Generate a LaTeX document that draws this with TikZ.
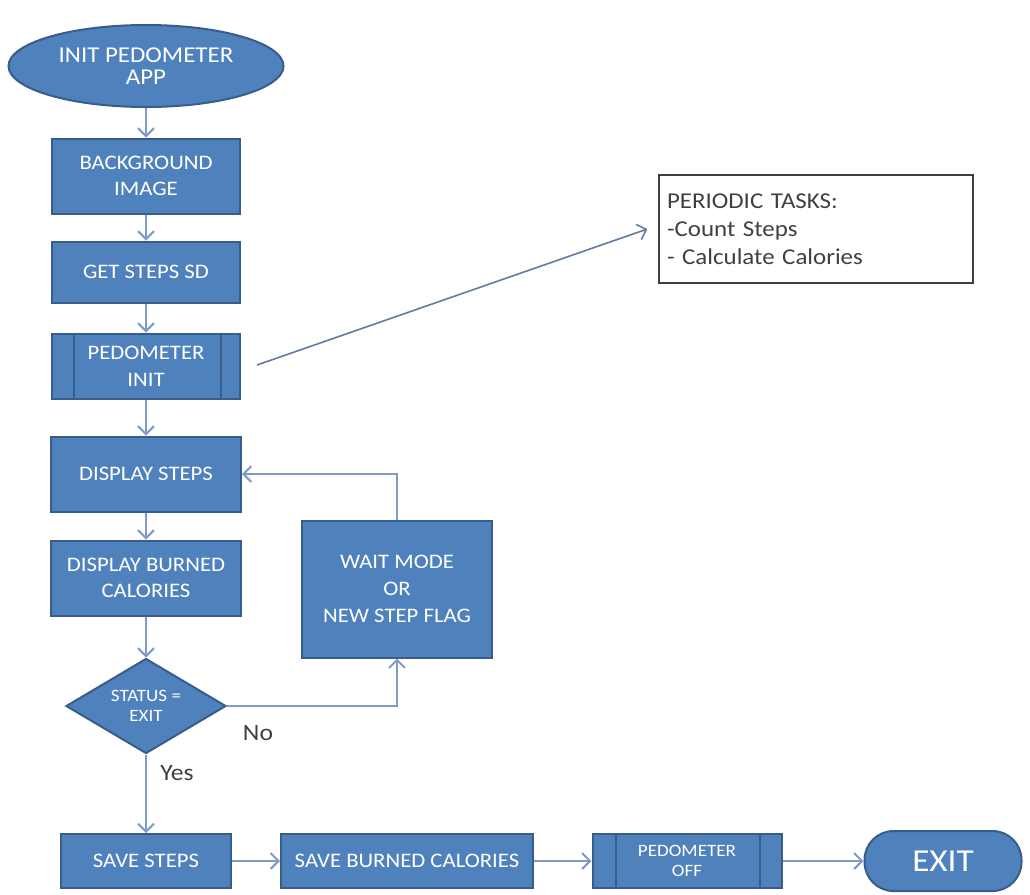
\documentclass[tikz,border=0pt]{standalone}
\usepackage{fontspec}
\setmainfont[FakeStretch=1.1]{Carlito}
\usetikzlibrary{shapes.geometric,arrows.meta}

\newdimen\pxu \pxu=0.75pt
\definecolor{boxblue}{RGB}{79,129,189}
\definecolor{boxedge}{RGB}{56,93,138}
\definecolor{arrowblue}{RGB}{128,155,198}
\definecolor{notegray}{RGB}{64,64,64}

\tikzstyle{flowbox}=[rectangle, draw=boxedge, fill=boxblue, line width=1.5pt, text=white, align=center, inner sep=0pt, font=\fontsize{15.5}{20}\selectfont]
\tikzstyle{termnode}=[flowbox, ellipse, font=\fontsize{17}{17}\selectfont]
\tikzstyle{decision}=[flowbox, diamond, aspect=1.7, font=\fontsize{13}{15}\selectfont]
\tikzstyle{procline}=[draw=boxedge, line width=1.5pt]
\tikzstyle{flow}=[draw=arrowblue, line width=1.5pt, -{Straight Barb[length=6pt,width=12pt]}]
\tikzstyle{note}=[rectangle, draw=notegray, line width=1pt, text=notegray, align=left, inner sep=6pt, font=\fontsize{17}{21}\selectfont]
\tikzstyle{answer}=[text=notegray, font=\fontsize{17.5}{18}\selectfont]

\begin{document}
\begin{tikzpicture}[x=\pxu, y=-\pxu]
\useasboundingbox (0,0) rectangle (1030,894);

\node[termnode, minimum width=275\pxu, minimum height=82\pxu] (app) at (146,66) {INIT PEDOMETER\\APP};
\node[flowbox, minimum width=188\pxu, minimum height=75\pxu] (bgimg) at (146,176) {BACKGROUND\\IMAGE};
\node[flowbox, minimum width=188\pxu, minimum height=61\pxu] (getsteps) at (146,272) {GET STEPS SD};

\node[flowbox, minimum width=188\pxu, minimum height=65\pxu] (pinit) at (146,366) {PEDOMETER\\INIT};
\draw[procline] ([xshift=23\pxu]pinit.north west) -- ([xshift=23\pxu]pinit.south west);
\draw[procline] ([xshift=-20\pxu]pinit.north east) -- ([xshift=-20\pxu]pinit.south east);

\node[flowbox, minimum width=190\pxu, minimum height=75\pxu] (dsteps) at (146,474) {DISPLAY STEPS};
\node[flowbox, minimum width=190\pxu, minimum height=75\pxu] (dcal) at (146,578) {DISPLAY BURNED\\CALORIES};
\node[decision, minimum width=160\pxu, minimum height=95\pxu] (status) at (146,706) {STATUS =\\EXIT};
\node[flowbox, minimum width=190\pxu, minimum height=137\pxu] (wait) at (397,589) {WAIT MODE\\OR\\NEW STEP FLAG};

\node[note, text width=298\pxu, minimum height=108\pxu] (tasks) at (816,229) {PERIODIC TASKS:\\-Count Steps\\- Calculate Calories};
\coordinate (tstart) at (257,365);

\node[flowbox, minimum width=170\pxu, minimum height=54\pxu] (savesteps) at (146,861) {SAVE STEPS};
\node[flowbox, minimum width=252\pxu, minimum height=54\pxu] (savecal) at (407,861) {SAVE BURNED CALORIES};

\node[flowbox, minimum width=189\pxu, minimum height=54\pxu, font=\fontsize{13}{15}\selectfont] (poff) at (687,861) {PEDOMETER\\OFF};
\draw[procline] ([xshift=24\pxu]poff.north west) -- ([xshift=24\pxu]poff.south west);
\draw[procline] ([xshift=-23\pxu]poff.north east) -- ([xshift=-23\pxu]poff.south east);

\node[flowbox, rounded corners=29\pxu, minimum width=157\pxu, minimum height=60\pxu, font=\fontsize{24}{28}\selectfont] (exit) at (943,861) {EXIT};

\node[answer] (no) at (258,733) {No};
\node[answer] (yes) at (177,773) {Yes};

\draw[flow] (app) edge (bgimg);
\draw[flow] (bgimg) edge (getsteps);
\draw[flow] (getsteps) edge (pinit);
\draw[flow] (pinit) edge (dsteps);
\draw[flow] (dsteps) edge (dcal);
\draw[flow] (dcal) edge (status);
\draw[flow] (status) edge (savesteps);
\draw[flow] (status.east) -| (wait.south);
\draw[flow] (wait.north) |- (dsteps.east);
\draw[flow] (savesteps) edge (savecal);
\draw[flow] (savecal) edge (poff);
\draw[flow] (poff) edge (exit);
\draw[flow, draw=boxedge!80, line width=1.2pt] (tstart) -- ([xshift=-11\pxu]tasks.west);
\end{tikzpicture}
\end{document}
